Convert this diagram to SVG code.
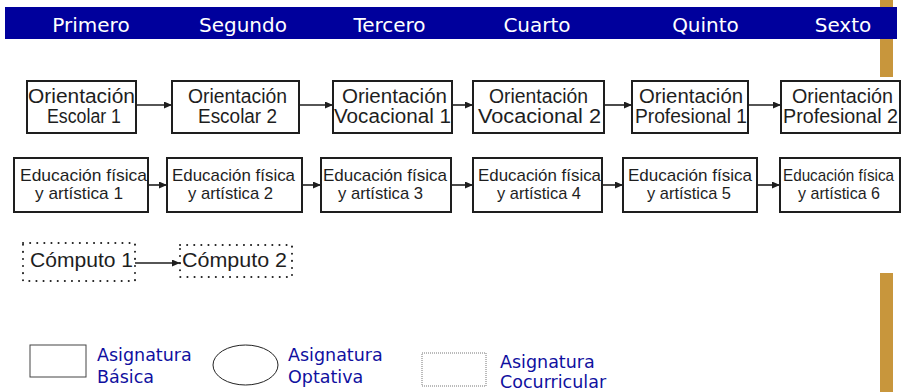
<svg xmlns="http://www.w3.org/2000/svg" width="902" height="392" viewBox="0 0 902 392">
<defs>
<style>
.hdr{font-family:"DejaVu Sans","Verdana",sans-serif;font-size:20px;fill:#ffffff;text-anchor:middle}
.box{fill:#ffffff;stroke:#1e1e1e;stroke-width:2}
.dot{fill:#ffffff;stroke:#1e1e1e;stroke-width:2;stroke-dasharray:0.1 7;stroke-linecap:round}
.t1{font-family:"Liberation Sans","Arial",sans-serif;font-size:19.5px;fill:#1e1e1e}
.t2{font-family:"Liberation Sans","Arial",sans-serif;font-size:17px;fill:#1e1e1e}
.con{stroke:#1e1e1e;stroke-width:1.6;fill:none;marker-end:url(#ah)}
.leg{font-family:"DejaVu Sans","Verdana",sans-serif;font-size:17.5px;fill:#1010a0}
.gold{fill:#c8963c}
</style>
<marker id="ah" markerUnits="userSpaceOnUse" markerWidth="8" markerHeight="7" refX="8" refY="3.5" orient="auto">
<path d="M0,0 L8,3.5 L0,7 z" fill="#1e1e1e"/>
</marker>
</defs>
<rect width="902" height="392" fill="#ffffff"/>
<rect class="gold" x="880" y="0" width="13" height="77"/>
<rect class="gold" x="880" y="273" width="13" height="119"/>
<g id="header">
<rect x="5" y="7" width="892" height="32" fill="#00009c"/>
<text class="hdr" x="91" y="32">Primero</text>
<text class="hdr" x="243" y="32">Segundo</text>
<text class="hdr" x="389.5" y="32">Tercero</text>
<text class="hdr" x="537" y="32">Cuarto</text>
<text class="hdr" x="705.5" y="32">Quinto</text>
<text class="hdr" x="843" y="32">Sexto</text>
</g>
<g id="connectors">
<path class="con" d="M136,105 H172"/>
<path class="con" d="M299,105 H333"/>
<path class="con" d="M452,105 H473"/>
<path class="con" d="M604,105 H632"/>
<path class="con" d="M748,105 H781"/>
<path class="con" d="M148,185 H167"/>
<path class="con" d="M302,185 H321"/>
<path class="con" d="M451,185 H473"/>
<path class="con" d="M602,185 H623"/>
<path class="con" d="M757,185 H780"/>
<path class="con" d="M135,263 H180"/>
</g>
<g id="oe1"><rect class="box" x="27" y="81" width="109" height="52"/>
<text class="t1" x="28" y="103" textLength="107" lengthAdjust="spacingAndGlyphs">Orientación</text>
<text class="t1" x="47" y="123" textLength="74" lengthAdjust="spacingAndGlyphs">Escolar 1</text></g>
<g id="oe2"><rect class="box" x="172" y="81" width="127" height="52"/>
<text class="t1" x="188" y="103" textLength="99" lengthAdjust="spacingAndGlyphs">Orientación</text>
<text class="t1" x="198" y="123" textLength="79" lengthAdjust="spacingAndGlyphs">Escolar 2</text></g>
<g id="ov1"><rect class="box" x="333" y="81" width="119" height="52"/>
<text class="t1" x="342" y="103" textLength="105" lengthAdjust="spacingAndGlyphs">Orientación</text>
<text class="t1" x="334" y="123" textLength="117" lengthAdjust="spacingAndGlyphs">Vocacional 1</text></g>
<g id="ov2"><rect class="box" x="473" y="81" width="131" height="52"/>
<text class="t1" x="489" y="103" textLength="99" lengthAdjust="spacingAndGlyphs">Orientación</text>
<text class="t1" x="478" y="123" textLength="123" lengthAdjust="spacingAndGlyphs">Vocacional 2</text></g>
<g id="op1"><rect class="box" x="632" y="81" width="116" height="52"/>
<text class="t1" x="639" y="103" textLength="104" lengthAdjust="spacingAndGlyphs">Orientación</text>
<text class="t1" x="635" y="123" textLength="112" lengthAdjust="spacingAndGlyphs">Profesional 1</text></g>
<g id="op2"><rect class="box" x="781" y="81" width="119" height="52"/>
<text class="t1" x="792" y="103" textLength="101" lengthAdjust="spacingAndGlyphs">Orientación</text>
<text class="t1" x="783" y="123" textLength="115" lengthAdjust="spacingAndGlyphs">Profesional 2</text></g>
<g id="ef1"><rect class="box" x="14" y="158" width="134" height="54"/>
<text class="t2" x="20" y="181" textLength="127" lengthAdjust="spacingAndGlyphs">Educación física</text>
<text class="t2" x="35" y="199" textLength="88" lengthAdjust="spacingAndGlyphs">y artística 1</text></g>
<g id="ef2"><rect class="box" x="167" y="158" width="135" height="54"/>
<text class="t2" x="172" y="181" textLength="123" lengthAdjust="spacingAndGlyphs">Educación física</text>
<text class="t2" x="188" y="199" textLength="85" lengthAdjust="spacingAndGlyphs">y artística 2</text></g>
<g id="ef3"><rect class="box" x="321" y="158" width="130" height="54"/>
<text class="t2" x="323" y="181" textLength="124" lengthAdjust="spacingAndGlyphs">Educación física</text>
<text class="t2" x="338" y="199" textLength="85" lengthAdjust="spacingAndGlyphs">y artística 3</text></g>
<g id="ef4"><rect class="box" x="473" y="158" width="129" height="54"/>
<text class="t2" x="478" y="181" textLength="123" lengthAdjust="spacingAndGlyphs">Educación física</text>
<text class="t2" x="497" y="199" textLength="84" lengthAdjust="spacingAndGlyphs">y artística 4</text></g>
<g id="ef5"><rect class="box" x="623" y="158" width="134" height="54"/>
<text class="t2" x="628" y="181" textLength="124" lengthAdjust="spacingAndGlyphs">Educación física</text>
<text class="t2" x="647" y="199" textLength="84" lengthAdjust="spacingAndGlyphs">y artística 5</text></g>
<g id="ef6"><rect class="box" x="780" y="158" width="120" height="54"/>
<text class="t2" x="783" y="181" textLength="111" lengthAdjust="spacingAndGlyphs">Educación física</text>
<text class="t2" x="798" y="199" textLength="82" lengthAdjust="spacingAndGlyphs">y artística 6</text></g>
<g id="comp1"><rect class="dot" x="23" y="243" width="112" height="38"/>
<text class="t1" x="30" y="267" textLength="103" lengthAdjust="spacingAndGlyphs">Cómputo 1</text></g>
<g id="comp2"><rect class="dot" x="180" y="245" width="112" height="32"/>
<text class="t1" x="182" y="267" textLength="105" lengthAdjust="spacingAndGlyphs">Cómputo 2</text></g>
<g id="legend-basica">
<rect x="30" y="345" width="56" height="32" fill="#ffffff" stroke="#444444" stroke-width="1"/>
<text class="leg" x="97" y="361">Asignatura</text>
<text class="leg" x="97" y="383">Básica</text>
</g>
<g id="legend-optativa">
<ellipse cx="245.5" cy="365" rx="32.5" ry="20" fill="#ffffff" stroke="#222222" stroke-width="1"/>
<text class="leg" x="288" y="361">Asignatura</text>
<text class="leg" x="288" y="383">Optativa</text>
</g>
<g id="legend-cocurricular">
<rect x="422" y="353" width="64" height="33" fill="#ffffff" stroke="#777777" stroke-width="1" stroke-dasharray="1 1"/>
<text class="leg" x="500" y="368">Asignatura</text>
<text class="leg" x="500" y="388">Cocurricular</text>
</g>
</svg>
